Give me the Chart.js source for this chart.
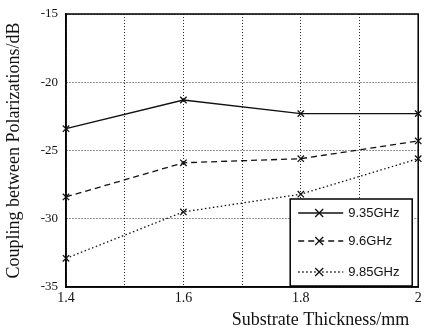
<!DOCTYPE html>
<html>
<head>
<meta charset="utf-8">
<script src="https://cdn.jsdelivr.net/npm/chart.js@4/dist/chart.umd.min.js"></script>
<style>
  html, body { margin: 0; padding: 0; background: #fff; }
  #wrap { width: 424px; height: 327px; }
</style>
</head>
<body>
<div id="wrap"><canvas id="c" width="424" height="327"></canvas></div>
<script>
// data
const thickness = [1.4, 1.6, 1.8, 2.0];
const coupling935 = [-23.4, -21.3, -22.3, -22.3];
const coupling96 = [-28.4, -25.9, -25.6, -24.3];
const coupling985 = [-32.9, -29.5, -28.2, -25.6];
const seriesNames = ['9.35GHz', '9.6GHz', '9.85GHz'];
const xTickLabels = { '1.4': '1.4', '1.6': '1.6', '1.8': '1.8', '2.0': '2' };

const serif = '"Liberation Serif", "Times New Roman", serif';
const sans = '"Liberation Sans", Arial, sans-serif';

function toPoints(ys) {
    return thickness.map((x, i) => ({ x: x, y: ys[i] }));
}

function makeSet(label, ys, dash) {
    return {
        label: label,
        data: toPoints(ys),
        borderColor: '#111',
        backgroundColor: '#111',
        borderWidth: 1.3,
        borderDash: dash,
        pointStyle: 'crossRot',
        pointRadius: 4.5,
        pointBorderWidth: 1.3,
        pointBorderColor: '#111',
        tension: 0,
        fill: false,
        clip: false
    };
}

// frame round the plot area (top and right sides)
const framePlugin = {
    id: 'frame',
    beforeDatasetsDraw(chart) {
        const { ctx, chartArea: a } = chart;
        ctx.save();
        ctx.strokeStyle = '#000';
        ctx.lineWidth = 1.5;
        ctx.strokeRect(a.left, a.top, a.right - a.left, a.bottom - a.top);
        ctx.restore();
    }
};

// boxed legend with line samples, bottom right inside the plot
const boxLegend = {
    id: 'boxLegend',
    afterDatasetsDraw(chart) {
        const { ctx, chartArea: a } = chart;
        const w = 122, h = 87;
        const x0 = a.right - 6 - w;
        const y0 = a.bottom - 1 - h;
        ctx.save();
        ctx.fillStyle = '#fff';
        ctx.fillRect(x0, y0, w, h);
        ctx.strokeStyle = '#000';
        ctx.lineWidth = 1.5;
        ctx.setLineDash([]);
        ctx.strokeRect(x0, y0, w, h);
        const rows = [14, 42, 73];
        chart.data.datasets.forEach((ds, i) => {
            const y = y0 + rows[i];
            ctx.strokeStyle = '#111';
            ctx.lineWidth = 1.3;
            ctx.setLineDash(ds.borderDash || []);
            ctx.beginPath();
            ctx.moveTo(x0 + 8, y);
            ctx.lineTo(x0 + 53, y);
            ctx.stroke();
            ctx.setLineDash([]);
            const mx = x0 + 29, r = 4;
            ctx.beginPath();
            ctx.moveTo(mx - r, y - r); ctx.lineTo(mx + r, y + r);
            ctx.moveTo(mx - r, y + r); ctx.lineTo(mx + r, y - r);
            ctx.stroke();
            ctx.fillStyle = '#111';
            ctx.font = '13px ' + sans;
            ctx.textBaseline = 'middle';
            ctx.textAlign = 'left';
            ctx.fillText(ds.label, x0 + 58, y);
        });
        ctx.restore();
    }
};

new Chart(document.getElementById('c'), {
    type: 'line',
    data: {
        datasets: [
            makeSet(seriesNames[0], coupling935, []),
            makeSet(seriesNames[1], coupling96, [6, 4]),
            makeSet(seriesNames[2], coupling985, [1.5, 2.5])
        ]
    },
    options: {
        responsive: false,
        animation: false,
        layout: { padding: { top: 14, right: 2, left: 0, bottom: 0 } },
        plugins: {
            legend: { display: false },
            tooltip: { enabled: false }
        },
        scales: {
            x: {
                type: 'linear',
                min: 1.4,
                max: 2.0,
                ticks: {
                    stepSize: 0.1,
                    color: '#111',
                    font: { family: serif, size: 14 },
                    padding: 3,
                    maxRotation: 0,
                    autoSkip: false,
                    callback: v => xTickLabels[v.toFixed(1)] || ''
                },
                grid: { color: 'rgba(0,0,0,0.85)', lineWidth: 1, drawTicks: false },
                border: { display: true, color: '#000', width: 1.5, dash: [1, 2] },
                title: {
                    display: true,
                    text: 'Substrate Thickness/mm  ',
                    align: 'end',
                    color: '#111',
                    font: { family: serif, size: 18, lineHeight: 1 },
                    padding: { top: 0, bottom: -2 }
                },
                afterFit(scale) {
                    scale.height = 40;
                    scale.paddingLeft = 0;
                    scale.paddingRight = 0;
                }
            },
            y: {
                min: -35,
                max: -15,
                ticks: {
                    stepSize: 5,
                    color: '#111',
                    font: { family: serif, size: 13 },
                    padding: 8
                },
                grid: { color: 'rgba(0,0,0,0.85)', lineWidth: 1, drawTicks: false },
                border: { display: true, color: '#000', width: 1.5, dash: [1, 2] },
                title: {
                    display: true,
                    text: 'Coupling between Polarizations/dB',
                    color: '#111',
                    font: { family: serif, size: 18, lineHeight: 1 },
                    padding: { top: 5, bottom: 0 }
                },
                afterFit(scale) {
                    scale.width = 66;
                    scale.paddingTop = 0;
                    scale.paddingBottom = 0;
                }
            }
        }
    },
    plugins: [framePlugin, boxLegend]
});
</script>
</body>
</html>
